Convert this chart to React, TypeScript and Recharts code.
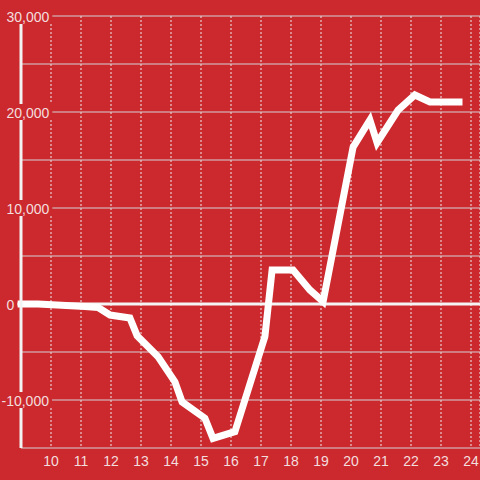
import { CartesianGrid, Line, LineChart, ReferenceLine, XAxis, YAxis } from 'recharts';

const hours = [9, 9.57, 11.13, 11.57, 11.97, 12.63, 12.87, 13.57, 14.13, 14.37, 15.13, 15.4, 16.13, 17.13, 17.37, 18.07, 18.63, 19.07, 20.07, 20.63, 20.87, 21.57, 22.13, 22.63, 23.6];
const balance = [0, 0, -260, -360, -1150, -1460, -3300, -5500, -8100, -10200, -11900, -14000, -13300, -3400, 3540, 3540, 1460, 250, 16350, 19170, 16800, 20200, 21770, 21040, 21040];
const hourTicks = [10, 11, 12, 13, 14, 15, 16, 17, 18, 19, 20, 21, 22, 23, 24];
const valueTicks = [-15000, -10000, -5000, 0, 5000, 10000, 15000, 20000, 25000, 30000];
const labelledValues = [-10000, 0, 10000, 20000, 30000];

const data = hours.map((t, i) => ({ t, v: balance[i] }));

const BG = '#cc292e';
const TEXT = '#f3dede';
const FONT = '"Liberation Sans", Arial, sans-serif';

function textWidth(s: string): number {
  let w = 0;
  for (const ch of s) w += ch === ',' ? 3.89 : ch === '-' ? 4.66 : 7.79;
  return w;
}

function YTick(props: any) {
  const { y, payload } = props;
  const v = payload.value as number;
  if (!labelledValues.includes(v)) return <g />;
  const label = v.toLocaleString('en-US');
  const tx = v < 0 ? 1.5 : 6.5;
  return (
    <g>
      <rect x={tx - 2} y={y - 8} width={textWidth(label) + 5} height={16} fill={BG} />
      <text x={tx} y={y + 6} fill={TEXT} fontSize={14} fontFamily={FONT} textAnchor="start">
        {label}
      </text>
    </g>
  );
}

function XTick(props: any) {
  const { x, payload } = props;
  return (
    <text x={x} y={466} fill={TEXT} fontSize={14} fontFamily={FONT} textAnchor="middle">
      {payload.value}
    </text>
  );
}

export default function App() {
  return (
    <div style={{ position: 'absolute', left: 0, top: 0, width: 480, height: 480, background: BG }}>
      <LineChart width={480} height={480} data={data} margin={{ top: 16, right: 0, bottom: 0, left: 0 }}>
        <CartesianGrid horizontal={false} stroke="#ececec" strokeDasharray="2 2" />
        <CartesianGrid vertical={false} stroke="#d2d2d2" />
        <XAxis
          type="number"
          dataKey="t"
          domain={[9, 24.3]}
          ticks={hourTicks}
          height={32}
          axisLine={false}
          tickLine={false}
          tick={<XTick />}
        />
        <YAxis
          domain={[-15000, 30000]}
          ticks={valueTicks}
          width={21}
          axisLine={{ stroke: '#f2f2f2', strokeWidth: 3 }}
          tickLine={false}
          tick={<YTick />}
        />
        <ReferenceLine
          segment={[{ x: 8.867, y: 0 }, { x: 24.3, y: 0 }]}
          ifOverflow="visible"
          stroke="#f4f4f4"
          strokeWidth={3}
        />
        <Line
          type="linear"
          dataKey="v"
          stroke="#ffffff"
          strokeWidth={7}
          strokeLinecap="square"
          dot={false}
          activeDot={false}
          isAnimationActive={false}
        />
      </LineChart>
    </div>
  );
}
